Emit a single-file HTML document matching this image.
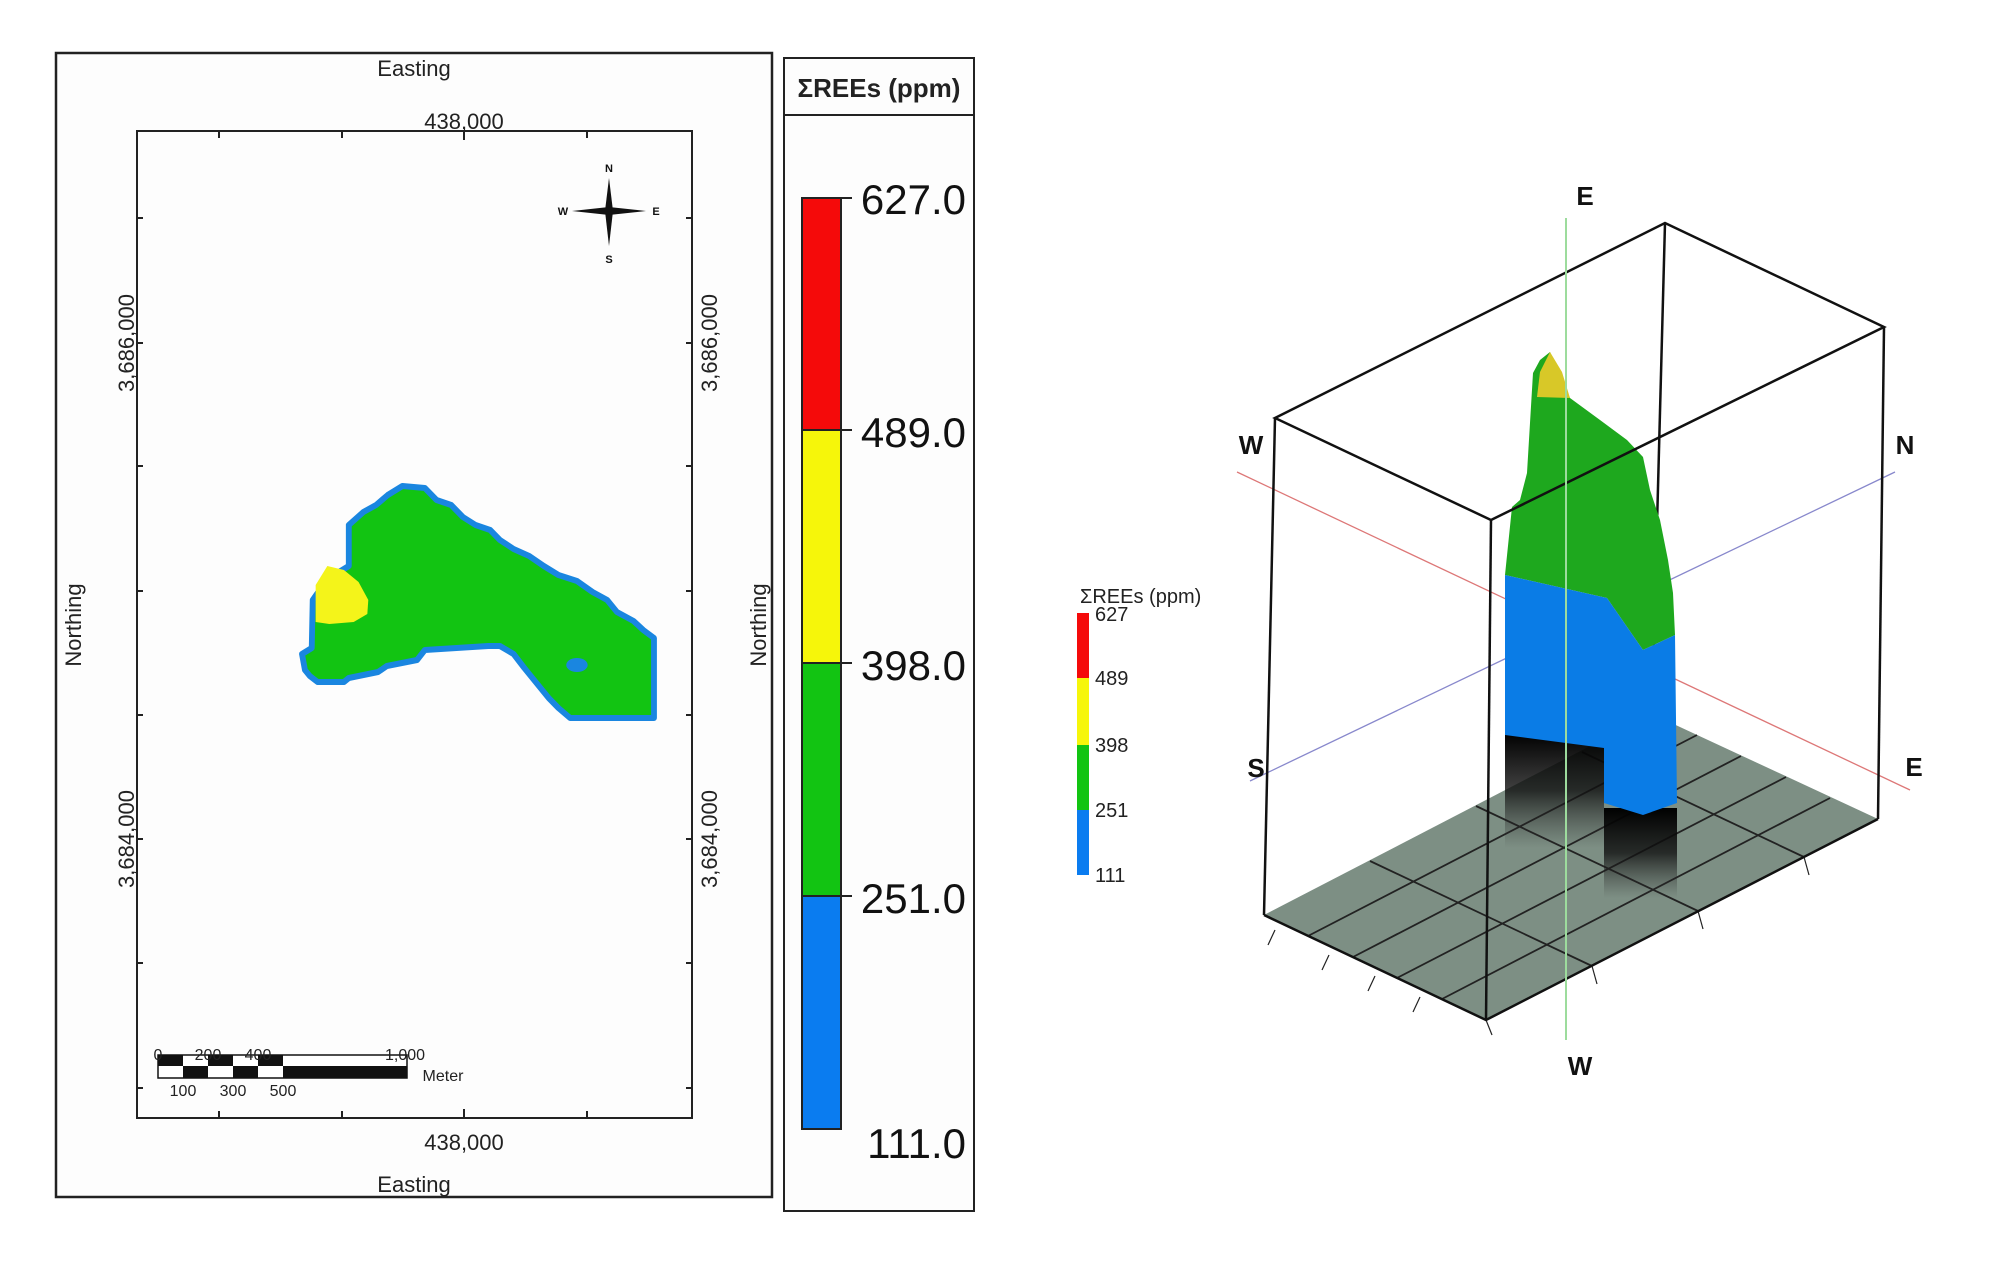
<!DOCTYPE html>
<html><head><meta charset="utf-8"><style>
html,body{margin:0;padding:0;background:#fff;}
svg{display:block;}
text{font-family:"Liberation Sans",Arial,sans-serif;}
</style></head><body>
<svg width="2008" height="1265" viewBox="0 0 2008 1265" xmlns="http://www.w3.org/2000/svg">
<defs>
<linearGradient id="fadeL" x1="0" y1="0" x2="0" y2="1"><stop offset="0" stop-color="#000"/><stop offset="0.5" stop-color="#111" stop-opacity="0.8"/><stop offset="1" stop-color="#333" stop-opacity="0"/></linearGradient>
</defs>
<rect width="2008" height="1265" fill="#fff"/>
<!-- LEFT MAP -->
<rect x="56" y="53" width="716" height="1144" fill="#fdfdfd" stroke="#222" stroke-width="2.5"/>
<rect x="137" y="131" width="555" height="987" fill="#fdfdfd" stroke="#222" stroke-width="2"/>
<g stroke="#222" stroke-width="2">
<line x1="219" y1="131" x2="219" y2="138"/><line x1="342" y1="131" x2="342" y2="138"/><line x1="464" y1="131" x2="464" y2="140"/><line x1="587" y1="131" x2="587" y2="138"/>
<line x1="219" y1="1118" x2="219" y2="1111"/><line x1="342" y1="1118" x2="342" y2="1111"/><line x1="464" y1="1118" x2="464" y2="1109"/><line x1="587" y1="1118" x2="587" y2="1111"/>
<line x1="137" y1="218" x2="143" y2="218"/><line x1="137" y1="343" x2="143" y2="343"/><line x1="137" y1="466" x2="143" y2="466"/><line x1="137" y1="591" x2="143" y2="591"/><line x1="137" y1="715" x2="143" y2="715"/><line x1="137" y1="839" x2="143" y2="839"/><line x1="137" y1="963" x2="143" y2="963"/><line x1="137" y1="1088" x2="143" y2="1088"/>
<line x1="692" y1="218" x2="686" y2="218"/><line x1="692" y1="343" x2="686" y2="343"/><line x1="692" y1="466" x2="686" y2="466"/><line x1="692" y1="591" x2="686" y2="591"/><line x1="692" y1="715" x2="686" y2="715"/><line x1="692" y1="839" x2="686" y2="839"/><line x1="692" y1="963" x2="686" y2="963"/><line x1="692" y1="1088" x2="686" y2="1088"/>
</g>
<g fill="#222" font-size="22" text-anchor="middle">
<text x="414" y="76">Easting</text>
<text x="414" y="1192">Easting</text>
<text x="464" y="129">438,000</text>
<text x="464" y="1150">438,000</text>
<text transform="translate(81,625) rotate(-90)">Northing</text>
<text transform="translate(766,625) rotate(-90)">Northing</text>
<text transform="translate(134,343) rotate(-90)">3,686,000</text>
<text transform="translate(134,839) rotate(-90)">3,684,000</text>
<text transform="translate(717,343) rotate(-90)">3,686,000</text>
<text transform="translate(717,839) rotate(-90)">3,684,000</text>
</g>
<!-- blob -->
<g transform="translate(302,0) scale(0.975,1) translate(-302,0)">
<path d="M305,670 L302,654 L312,648 L313,600 L318,593 L330,585 L340,572 L350,566 L350,525 L365,512 L378,505 L390,495 L405,486 L428,488 L440,500 L455,505 L467,517 L480,525 L495,530 L505,540 L519,549 L535,556 L550,566 L565,575 L584,581 L600,592 L615,600 L625,612 L642,621 L652,630 L663,638 L663,718 L577,718 L565,708 L555,698 L540,680 L530,668 L519,654 L505,646 L493,646 L428,650 L420,660 L389,666 L380,672 L350,678 L345,682 L318,682 L310,676 Z" fill="#12c412" stroke="#1a86e0" stroke-width="6" stroke-linejoin="round"/>
<path d="M316,622 L316,585 L328,566 L345,570 L360,582 L370,600 L369,614 L355,622 L330,624 Z" fill="#f4f41a"/>
<ellipse cx="584" cy="665" rx="11" ry="7" fill="#1a86e0"/>
</g>
<!-- compass -->
<g fill="#111">
<polygon points="609,178 605,211 613,211"/><polygon points="609,246 605,211 613,211"/>
<polygon points="572,211 609,207 609,215"/><polygon points="646,211 609,207 609,215"/>
</g>
<g font-size="11" font-weight="bold" text-anchor="middle" fill="#111">
<text x="609" y="172">N</text><text x="609" y="263">S</text><text x="563" y="215">W</text><text x="656" y="215">E</text>
</g>
<!-- scale bar -->
<rect x="158" y="1055" width="249" height="23" fill="#fff" stroke="#111" stroke-width="1.5"/>
<g fill="#111">
<rect x="158" y="1055" width="25" height="11"/><rect x="208" y="1055" width="25" height="11"/><rect x="258" y="1055" width="25" height="11"/>
<rect x="183" y="1066" width="25" height="12"/><rect x="233" y="1066" width="25" height="12"/><rect x="283" y="1066" width="124" height="12"/>
</g>
<g font-size="16" fill="#222" text-anchor="middle">
<text x="158" y="1060">0</text><text x="208" y="1060">200</text><text x="258" y="1060">400</text><text x="405" y="1060">1,000</text>
<text x="183" y="1096">100</text><text x="233" y="1096">300</text><text x="283" y="1096">500</text>
<text x="443" y="1081">Meter</text>
</g>
<!-- legend -->
<rect x="784" y="58" width="190" height="1153" fill="#fdfdfd" stroke="#222" stroke-width="2"/>
<line x1="784" y1="115" x2="974" y2="115" stroke="#222" stroke-width="2"/>
<text x="879" y="97" font-size="26" font-weight="bold" text-anchor="middle" fill="#222">ΣREEs (ppm)</text>
<rect x="802" y="198" width="39" height="232" fill="#f50a0a"/>
<rect x="802" y="430" width="39" height="233" fill="#f6f60a"/>
<rect x="802" y="663" width="39" height="233" fill="#12c412"/>
<rect x="802" y="896" width="39" height="233" fill="#0a7cf0"/>
<rect x="802" y="198" width="39" height="931" fill="none" stroke="#222" stroke-width="2"/>
<g stroke="#222" stroke-width="2"><line x1="841" y1="198" x2="852" y2="198"/><line x1="802" y1="430" x2="852" y2="430"/><line x1="802" y1="663" x2="852" y2="663"/><line x1="802" y1="896" x2="852" y2="896"/></g>
<g font-size="42" fill="#111" text-anchor="end">
<text x="966" y="214">627.0</text><text x="966" y="447">489.0</text><text x="966" y="680">398.0</text><text x="966" y="913">251.0</text><text x="966" y="1158">111.0</text>
</g>
<!-- RIGHT 3D -->
<polygon points="1264,915 1486,1020 1878,819 1652,714" fill="#7d8f84"/>
<g stroke="#222" stroke-width="1.8">
<line x1="1308" y1="936" x2="1697" y2="735"/><line x1="1353" y1="957" x2="1741" y2="756"/><line x1="1397" y1="978" x2="1786" y2="777"/><line x1="1442" y1="999" x2="1830" y2="798"/>
<line x1="1592" y1="966" x2="1370" y2="861"/><line x1="1698" y1="911" x2="1476" y2="806"/><line x1="1804" y1="857" x2="1582" y2="752"/>
</g>
<g stroke="#222" stroke-width="1.2">
<line x1="1275" y1="930" x2="1268" y2="945"/><line x1="1329" y1="955" x2="1322" y2="970"/><line x1="1375" y1="976" x2="1368" y2="991"/><line x1="1420" y1="997" x2="1413" y2="1012"/><line x1="1486" y1="1020" x2="1492" y2="1035"/>
<line x1="1592" y1="966" x2="1597" y2="984"/><line x1="1698" y1="911" x2="1703" y2="929"/><line x1="1804" y1="857" x2="1809" y2="875"/>
</g>
<line x1="1665" y1="223" x2="1652" y2="714" stroke="#111" stroke-width="2.5"/>
<line x1="1237" y1="472" x2="1910" y2="790" stroke="#d77" stroke-width="1.3"/>
<line x1="1250" y1="781" x2="1895" y2="472" stroke="#88c" stroke-width="1.3"/>
<!-- surface -->
<rect x="1505" y="733" width="99" height="115" fill="url(#fadeL)"/>
<rect x="1604" y="808" width="73" height="90" fill="url(#fadeL)"/>
<polygon points="1550,352 1570,398 1600,420 1627,440 1643,457 1650,490 1660,520 1668,560 1673,593 1675,635 1643,650 1607,598 1505,575 1512,507 1520,500 1527,473 1533,373 1540,360" fill="#1ea81e"/>
<polygon points="1550,352 1540,372 1537,397 1570,398 1562,372" fill="#d8c828"/>
<polygon points="1505,575 1607,598 1643,650 1675,635 1677,803 1643,815 1604,803 1604,748 1505,735" fill="#0a7ce6"/>
<!-- box edges -->
<g stroke="#111" stroke-width="2.5" fill="none">
<polygon points="1275,418 1665,223 1884,327 1491,520"/>
<line x1="1275" y1="418" x2="1264" y2="915"/>
<line x1="1491" y1="520" x2="1486" y2="1020"/>
<line x1="1884" y1="327" x2="1878" y2="819"/>
<polyline points="1264,915 1486,1020 1878,819"/>
</g>
<line x1="1566" y1="218" x2="1566" y2="1040" stroke="#9ddc9d" stroke-width="2"/>
<g font-size="26" font-weight="bold" fill="#111" text-anchor="middle">
<text x="1585" y="205">E</text><text x="1251" y="454">W</text><text x="1905" y="454">N</text><text x="1256" y="777">S</text><text x="1914" y="776">E</text><text x="1580" y="1075">W</text>
</g>
<text x="1080" y="603" font-size="20" fill="#222">ΣREEs (ppm)</text>
<rect x="1077" y="613" width="12" height="65" fill="#f50a0a"/>
<rect x="1077" y="678" width="12" height="67" fill="#f6f60a"/>
<rect x="1077" y="745" width="12" height="65" fill="#12c412"/>
<rect x="1077" y="810" width="12" height="65" fill="#0a7cf0"/>
<g font-size="20" fill="#222">
<text x="1095" y="621">627</text><text x="1095" y="685">489</text><text x="1095" y="752">398</text><text x="1095" y="817">251</text><text x="1095" y="882">111</text>
</g>
</svg>
</body></html>
